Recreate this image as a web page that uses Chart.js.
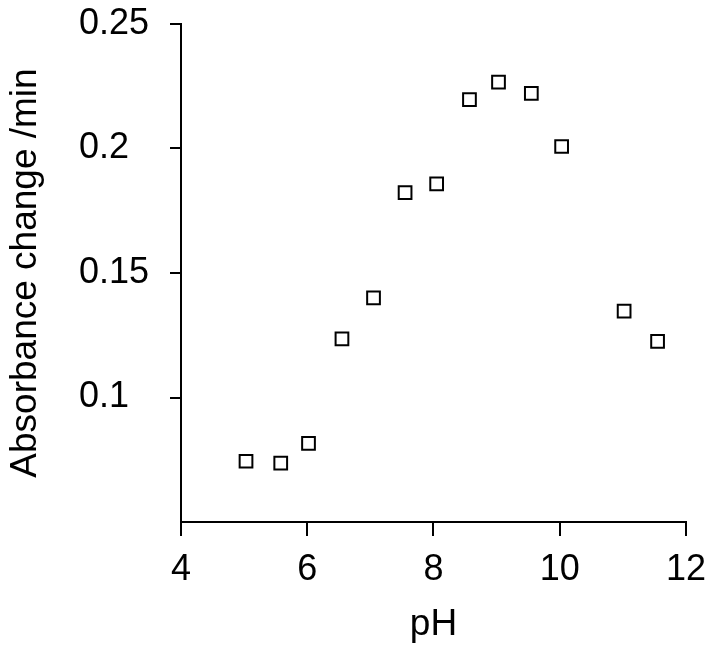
<!DOCTYPE html>
<html>
<head>
<meta charset="utf-8">
<script src="https://cdn.jsdelivr.net/npm/chart.js@4/dist/chart.umd.min.js"></script>
<style>
html,body{margin:0;padding:0;background:#fff;}
#wrap{width:718px;height:651px;}
</style>
</head>
<body>
<div id="wrap"><canvas id="c" width="718" height="651"></canvas></div>
<script>
const pHValues = [5.03, 5.58, 6.02, 6.55, 7.05, 7.55, 8.05, 8.57, 9.03, 9.55, 10.03, 11.02, 11.55];
const absorbanceRates = [0.0744, 0.0736, 0.0816, 0.1235, 0.140, 0.1823, 0.1858, 0.2196, 0.2267, 0.2221, 0.2008, 0.1347, 0.1225];
const xTicks = [4, 6, 8, 10, 12];
const yTicks = [0.1, 0.15, 0.2, 0.25];

const points = pHValues.map((x, i) => ({x: x, y: absorbanceRates[i]}));
const FONT = "'Liberation Sans', Arial, sans-serif";

new Chart(document.getElementById('c'), {
  type: 'scatter',
  data: {
    datasets: [{
      data: points,
      xAxisID: 'x',
      yAxisID: 'y',
      pointStyle: 'rect',
      pointRadius: 9,
      pointHoverRadius: 9,
      backgroundColor: 'rgba(0,0,0,0)',
      borderColor: '#000',
      borderWidth: 2
    }]
  },
  options: {
    responsive: false,
    animation: false,
    layout: {padding: {top: 24, right: 31, left: 0, bottom: 0}},
    plugins: {legend: {display: false}, tooltip: {enabled: false}},
    scales: {
      x: {
        type: 'linear',
        position: 'bottom',
        min: 4, max: 12,
        afterBuildTicks: s => { s.ticks = xTicks.map(v => ({value: v})); },
        afterFit: s => { s.height = 129; },
        border: {display: true, color: '#000', width: 2},
        grid: {display: true, drawOnChartArea: false, drawTicks: true, tickLength: 14, color: '#000', lineWidth: 2},
        ticks: {color: '#000', font: {family: FONT, size: 36}, padding: 12, maxRotation: 0},
        title: {display: true, text: 'pH', color: '#000', font: {family: FONT, size: 37}, padding: {top: 4, bottom: 4}}
      },
      y: {
        type: 'linear',
        position: 'left',
        weight: 0,
        min: 0.05, max: 0.25,
        afterBuildTicks: s => { s.ticks = yTicks.map(v => ({value: v})); },
        afterFit: s => { s.width = 102; },
        border: {display: true, color: '#000', width: 2},
        grid: {display: true, drawOnChartArea: false, drawTicks: true, tickLength: 11, color: '#000', lineWidth: 2},
        ticks: {
          color: '#000', font: {family: FONT, size: 36}, padding: 0, crossAlign: 'far',
          callback: v => String(Number(v.toFixed(2)))
        },
        title: {display: false}
      },
      yTitle: {
        type: 'linear',
        position: 'left',
        weight: 1,
        afterFit: s => { s.width = 79; },
        border: {display: false},
        grid: {display: false, drawTicks: false},
        ticks: {display: false},
        title: {display: true, text: 'Absorbance change /min', color: '#000', font: {family: FONT, size: 37}, padding: {top: 4, bottom: 4}}
      }
    }
  }
});
</script>
</body>
</html>
